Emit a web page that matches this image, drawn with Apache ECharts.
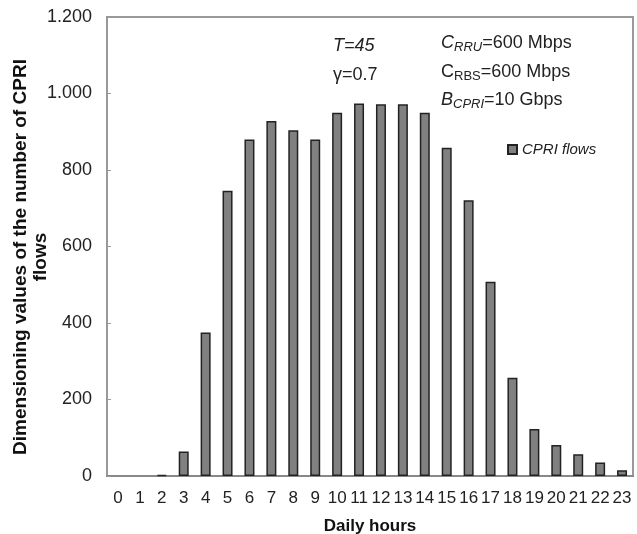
<!DOCTYPE html>
<html>
<head>
<meta charset="utf-8">
<script src="https://cdn.jsdelivr.net/npm/echarts@6/dist/echarts.min.js"></script>
<style>
  html, body { margin: 0; padding: 0; background: #fff; }
  #chart { width: 637px; height: 534px; }
</style>
</head>
<body>
<div id="chart"></div>
<script>
// daily hours 0..23
const hours = ['0', '1', '2', '3', '4', '5', '6', '7', '8', '9', '10', '11',
  '12', '13', '14', '15', '16', '17', '18', '19', '20', '21', '22', '23']
// dimensioning values of the number of CPRI flows
const cpriFlows = [0, 0, 3, 64, 375, 746, 880, 928, 904, 880, 950, 974,
  972, 972, 950, 858, 721, 508, 257, 123, 81, 57, 35, 15]
const yTicks = [0, 200, 400, 600, 800, 1000, 1200]

const fontFamily = '"Liberation Sans", Arial, Helvetica, sans-serif'

const chart = echarts.init(document.getElementById('chart'))

// zero-valued hours draw nothing in the original figure
const barData = cpriFlows.map(v => (v === 0 ? { value: v, itemStyle: { borderWidth: 0 } } : v))

chart.setOption({
  backgroundColor: '#fff',
  animation: false,
  textStyle: { fontFamily: fontFamily },
  grid: {
    left: 107,
    right: 4,
    top: 17,
    bottom: 58,
    outerBoundsMode: 'none',
    containLabel: false,
    show: true,
    borderColor: '#999',
    borderWidth: 2,
    backgroundColor: 'transparent'
  },
  legend: {
    left: 502,
    top: 137,
    icon: 'rect',
    itemWidth: 9,
    itemHeight: 9,
    itemGap: 5,
    textStyle: {
      fontStyle: 'italic',
      fontSize: 15,
      color: '#222',
      fontFamily: fontFamily
    },
    data: ['CPRI flows']
  },
  xAxis: {
    type: 'category',
    data: hours,
    name: 'Daily hours',
    nameLocation: 'middle',
    nameGap: 42,
    nameTextStyle: { fontWeight: 'bold', fontSize: 17, color: '#111' },
    axisLine: { lineStyle: { color: '#888', width: 2 } },
    axisTick: { inside: true, length: 4, lineStyle: { color: '#999' } },
    axisLabel: { fontSize: 17, color: '#222', margin: 14, interval: 0 }
  },
  yAxis: {
    type: 'value',
    min: yTicks[0],
    max: yTicks[yTicks.length - 1],
    interval: 200,
    splitLine: { show: false },
    axisLine: { show: true, lineStyle: { color: '#999', width: 2 } },
    axisTick: { show: true, inside: true, length: 4, lineStyle: { color: '#999' } },
    axisLabel: {
      fontSize: 18,
      color: '#222',
      margin: 15,
      formatter: function (v) {
        if (v >= 1000) {
          return Math.floor(v / 1000) + '.' + String(v % 1000).padStart(3, '0')
        }
        return String(v)
      }
    }
  },
  graphic: [
    {
      type: 'text',
      x: 31,
      y: 257,
      rotation: Math.PI / 2,
      style: {
        text: 'Dimensioning values of the number of CPRI\nflows',
        fontWeight: 'bold',
        fontSize: 19,
        lineHeight: 20,
        fill: '#111',
        fontFamily: fontFamily,
        align: 'center',
        verticalAlign: 'middle'
      }
    },
    {
      type: 'text',
      left: 333,
      top: 37,
      style: {
        text: '{it|T=45}',
        rich: { it: { fontStyle: 'italic', fontSize: 18, fill: '#222', fontFamily: fontFamily } }
      }
    },
    {
      type: 'text',
      left: 333,
      top: 66,
      style: {
        text: 'γ=0.7',
        fontSize: 18,
        fill: '#222',
        fontFamily: fontFamily
      }
    },
    {
      type: 'text',
      left: 441,
      top: 34,
      style: {
        text: '{ci|C}{si|RRU}{n|=600 Mbps}',
        rich: {
          ci: { fontStyle: 'italic', fontSize: 18, fill: '#222', fontFamily: fontFamily },
          si: { fontStyle: 'italic', fontSize: 13, fill: '#222', fontFamily: fontFamily, padding: [8, 0, 0, 0] },
          n: { fontSize: 18, fill: '#222', fontFamily: fontFamily }
        }
      }
    },
    {
      type: 'text',
      left: 441,
      top: 63,
      style: {
        text: '{c|C}{s|RBS}{n|=600 Mbps}',
        rich: {
          c: { fontSize: 18, fill: '#222', fontFamily: fontFamily },
          s: { fontSize: 13, fill: '#222', fontFamily: fontFamily, padding: [8, 0, 0, 0] },
          n: { fontSize: 18, fill: '#222', fontFamily: fontFamily }
        }
      }
    },
    {
      type: 'text',
      left: 441,
      top: 91,
      style: {
        text: '{ci|B}{si|CPRI}{n|=10 Gbps}',
        rich: {
          ci: { fontStyle: 'italic', fontSize: 18, fill: '#222', fontFamily: fontFamily },
          si: { fontStyle: 'italic', fontSize: 13, fill: '#222', fontFamily: fontFamily, padding: [8, 0, 0, 0] },
          n: { fontSize: 18, fill: '#222', fontFamily: fontFamily }
        }
      }
    }
  ],
  series: [
    {
      name: 'CPRI flows',
      type: 'bar',
      data: barData,
      barWidth: 10,
      itemStyle: {
        color: '#808080',
        borderColor: '#222',
        borderWidth: 1.5
      }
    }
  ]
})
</script>
</body>
</html>
